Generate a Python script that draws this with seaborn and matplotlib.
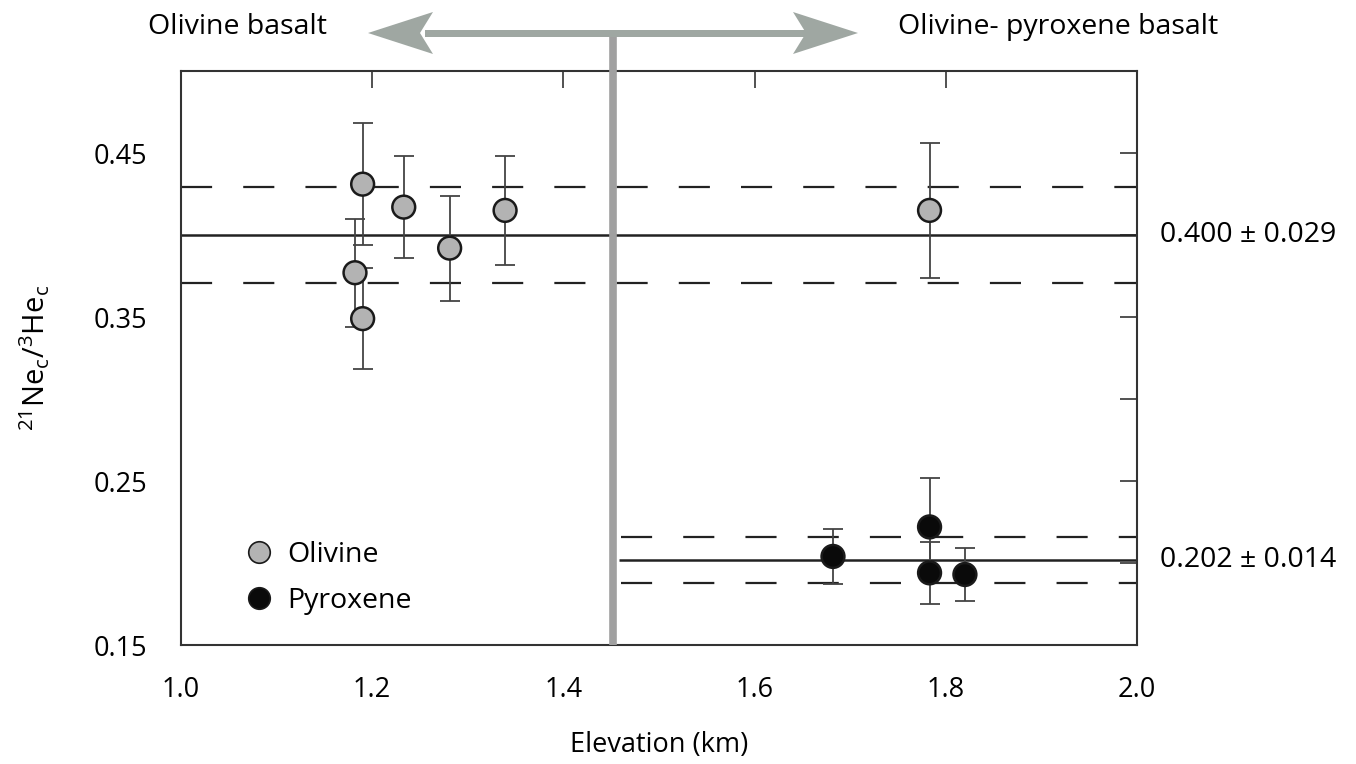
import numpy as np
import pandas as pd
import seaborn as sns
import matplotlib.pyplot as plt
from matplotlib.patches import Polygon
from matplotlib.lines import Line2D
import matplotlib.transforms as mtransforms

# ---- data ----
ol_elev = [1.190, 1.182, 1.190, 1.233, 1.281, 1.339, 1.783]
ol_ratio = [0.431, 0.377, 0.349, 0.417, 0.392, 0.415, 0.415]
ol_err = [0.037, 0.033, 0.031, 0.031, 0.032, 0.033, 0.041]

px_elev = [1.682, 1.783, 1.783, 1.820]
px_ratio = [0.204, 0.222, 0.194, 0.193]
px_err = [0.017, 0.030, 0.019, 0.016]

mean_ol, sd_ol = 0.400, 0.029
mean_px, sd_px = 0.202, 0.014
boundary = 1.452

xticks = [1.0, 1.2, 1.4, 1.6, 1.8, 2.0]
xticklabels = ["1.0", "1.2", "1.4", "1.6", "1.8", "2.0"]
yticks_major = [0.15, 0.25, 0.35, 0.45]
yticks_minor = [0.20, 0.30, 0.40]

df = pd.DataFrame({
    "elev": ol_elev + px_elev,
    "ratio": ol_ratio + px_ratio,
    "err": ol_err + px_err,
    "mineral": ["Olivine"] * len(ol_elev) + ["Pyroxene"] * len(px_elev),
})

sns.set_theme(style="white")
plt.rcParams["font.family"] = ["Open Sans", "DejaVu Sans"]
plt.rcParams["mathtext.default"] = "regular"
plt.rcParams["text.color"] = "black"
plt.rcParams["axes.labelcolor"] = "black"
plt.rcParams["xtick.color"] = "black"
plt.rcParams["ytick.color"] = "black"

fig = plt.figure(figsize=(13.56, 7.64), dpi=100)
ax = fig.add_axes([181 / 1356, 1 - 645 / 764, 956 / 1356, 574 / 764])

palette = {"Olivine": "#b3b3b3", "Pyroxene": "#0a0a0a"}
ink = "#222222"

# mean and 1-sigma lines
ax.hlines(mean_ol, 1.0, 2.0, color=ink, lw=1.8, zorder=1)
for v in (mean_ol + sd_ol, mean_ol - sd_ol):
    ax.hlines(v, 1.0, 2.0, color=ink, lw=1.6, linestyles=(0, (14, 14)), zorder=1)
ax.hlines(mean_px, boundary + 0.006, 2.0, color=ink, lw=1.8, zorder=1)
for v in (mean_px + sd_px, mean_px - sd_px):
    ax.hlines(v, boundary + 0.008, 2.0, color=ink, lw=1.6, linestyles=(0, (14, 14)), zorder=1)

# error bars
ax.errorbar(df["elev"], df["ratio"], yerr=df["err"], fmt="none",
            ecolor="#444444", elinewidth=1.3, capsize=7, capthick=1.3, zorder=2)

sns.scatterplot(data=df, x="elev", y="ratio", hue="mineral", palette=palette,
                s=270, edgecolor="#1a1a1a", linewidth=1.8, legend=False,
                zorder=3, ax=ax)

# boundary vertical line (extends above axes to the arrow)
trans_v = mtransforms.blended_transform_factory(ax.transData, fig.transFigure)
ax.add_line(Line2D([boundary, boundary], [1 - 645 / 764, 1 - 33 / 764],
                   transform=trans_v, color="#a0a0a0", lw=5.5,
                   clip_on=False, zorder=4, solid_capstyle="butt"))

# top arrow (figure pixel coords converted to figure fraction)
W, H = 1356, 764
arrow_col = "#9fa7a2"
y0 = 33
shaft = Polygon([(425 / W, 1 - (y0 - 3.5) / H), (808 / W, 1 - (y0 - 3.5) / H),
                 (808 / W, 1 - (y0 + 3.5) / H), (425 / W, 1 - (y0 + 3.5) / H)],
                closed=True, transform=fig.transFigure, color=arrow_col, lw=0)
left_head = Polygon([(368 / W, 1 - y0 / H), (433 / W, 1 - 12 / H), (420 / W, 1 - y0 / H),
                     (433 / W, 1 - 54 / H)], closed=True, transform=fig.transFigure,
                    color=arrow_col, lw=0)
right_head = Polygon([(858 / W, 1 - y0 / H), (793 / W, 1 - 12 / H), (806 / W, 1 - y0 / H),
                      (793 / W, 1 - 54 / H)], closed=True, transform=fig.transFigure,
                     color=arrow_col, lw=0)
for p in (shaft, left_head, right_head):
    fig.patches.append(p)

fig.text(237 / W, 1 - 27 / H, "Olivine basalt", ha="center", va="center", fontsize=20.5)
fig.text(1058 / W, 1 - 27 / H, "Olivine- pyroxene basalt", ha="center", va="center", fontsize=20.5)

# right-side annotations
trans_r = mtransforms.blended_transform_factory(fig.transFigure, ax.transData)
ax.text(1160 / W, mean_ol, "0.400 ± 0.029", transform=trans_r, va="center", ha="left", fontsize=20.5)
ax.text(1160 / W, mean_px, "0.202 ± 0.014", transform=trans_r, va="center", ha="left", fontsize=20.5)

# axes styling
ax.set_xlim(1.0, 2.0)
ax.set_ylim(0.15, 0.50)
ax.set_xticks(xticks)
ax.set_xticklabels(xticklabels)
ax.set_yticks(yticks_major)
ax.set_yticklabels([f"{v:.2f}" for v in yticks_major])
ax.set_yticks(yticks_minor, minor=True)
ax.tick_params(axis="both", which="both", direction="in", length=12, width=1.2,
               color="#333333", top=True, right=True, labelsize=19.5)
ax.tick_params(axis="x", pad=22)
ax.tick_params(axis="y", pad=24)
for s in ax.spines.values():
    s.set_color("#333333")
    s.set_linewidth(1.5)

ax.set_xlabel("Elevation (km)", fontsize=19.5, labelpad=20)
ax.set_ylabel(r"$^{21}$Ne$_{c}$/$^{3}$He$_{c}$", fontsize=21, labelpad=30)

# legend
handles = [Line2D([], [], marker="o", ls="", markersize=15.5, markerfacecolor=palette[k],
                  markeredgecolor="#1a1a1a", markeredgewidth=1.2, label=k)
           for k in ["Olivine", "Pyroxene"]]
ax.legend(handles=handles, loc="lower left", bbox_to_anchor=(0.040, 0.007), frameon=False,
          fontsize=20.5, handletextpad=0.5, labelspacing=0.65, handlelength=1.0)

fig.savefig("out.png", dpi=100)
